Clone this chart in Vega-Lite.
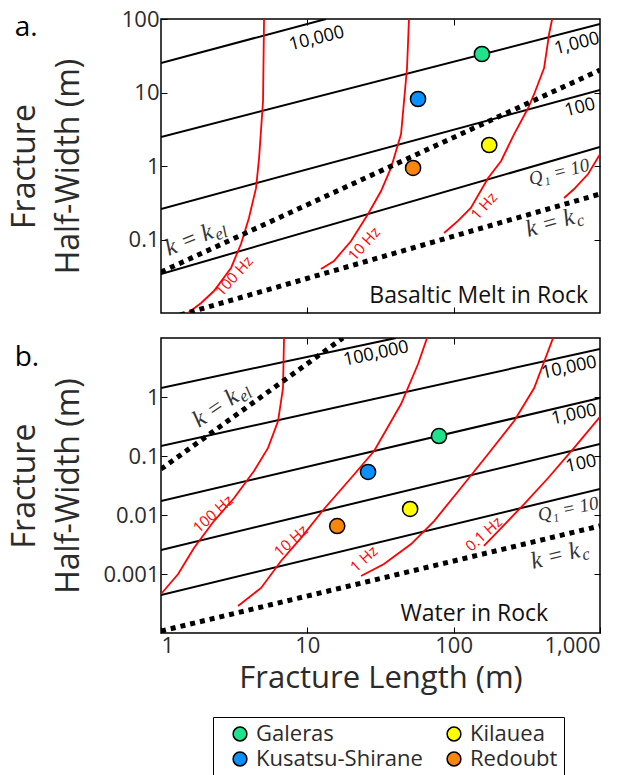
{
  "$schema": "https://vega.github.io/schema/vega-lite/v6.json",
  "background": "white",
  "padding": {"left": 7, "top": 7, "right": 5, "bottom": 0},
  "config": {
    "font": "Open Sans",
    "view": {"stroke": "black", "strokeWidth": 1.5},
    "axis": {
      "domain": false, "grid": false, "tickColor": "black", "tickSize": -6, "tickWidth": 1,
      "labelFont": "Open Sans", "labelFontSize": 22, "labelColor": "#2b2b2b", "labelPadding": 8,
      "titleFont": "Open Sans", "titleFontSize": 32, "titleFontWeight": "normal", "titleColor": "#2b2b2b"
    },
    "text": {"font": "Open Sans"}
  },
  "datasets": {
    "aTag": [{"t": "a.", "x": 0.1, "y": 58.8}],
    "bTag": [{"t": "b.", "x": 0.1, "y": 3.35}],
    "aQ": [
      {"id": "q4", "x": 1, "y": 25.2}, {"id": "q4", "x": 13.4, "y": 100},
      {"id": "q3", "x": 1, "y": 2.48}, {"id": "q3", "x": 1000, "y": 85.5},
      {"id": "q2", "x": 1, "y": 0.26}, {"id": "q2", "x": 1000, "y": 10.8},
      {"id": "q1", "x": 1, "y": 0.034}, {"id": "q1", "x": 1000, "y": 1.81}
    ],
    "aDot": [
      {"id": "kel", "x": 1, "y": 0.0361}, {"id": "kel", "x": 1000, "y": 20.2},
      {"id": "kc", "x": 1, "y": 0.0079}, {"id": "kc", "x": 1000, "y": 0.416}
    ],
    "aRed": [
      {"id": "f100", "x": 1.53, "y": 0.01}, {"id": "f100", "x": 1.88, "y": 0.0137}, {"id": "f100", "x": 2.3, "y": 0.0199},
      {"id": "f100", "x": 3.01, "y": 0.041}, {"id": "f100", "x": 3.52, "y": 0.0869}, {"id": "f100", "x": 3.99, "y": 0.196},
      {"id": "f100", "x": 4.46, "y": 0.5}, {"id": "f100", "x": 4.68, "y": 1.28}, {"id": "f100", "x": 4.98, "y": 7.66},
      {"id": "f100", "x": 5.06, "y": 100},
      {"id": "f10", "x": 12.4, "y": 0.0397}, {"id": "f10", "x": 15.2, "y": 0.051}, {"id": "f10", "x": 19.9, "y": 0.0955},
      {"id": "f10", "x": 26.0, "y": 0.222}, {"id": "f10", "x": 31.9, "y": 0.457}, {"id": "f10", "x": 37.3, "y": 0.94},
      {"id": "f10", "x": 43.7, "y": 2.72}, {"id": "f10", "x": 48.0, "y": 21.5}, {"id": "f10", "x": 49.5, "y": 100},
      {"id": "f1", "x": 86, "y": 0.1225}, {"id": "f1", "x": 107, "y": 0.179}, {"id": "f1", "x": 131, "y": 0.269},
      {"id": "f1", "x": 172, "y": 0.687}, {"id": "f1", "x": 211, "y": 1.17}, {"id": "f1", "x": 259, "y": 2.72},
      {"id": "f1", "x": 323, "y": 6.15}, {"id": "f1", "x": 355, "y": 9.55}, {"id": "f1", "x": 415, "y": 21.5},
      {"id": "f1", "x": 449, "y": 62.5}, {"id": "f1", "x": 471, "y": 100},
      {"id": "f01", "x": 568, "y": 0.367}, {"id": "f01", "x": 665, "y": 0.486}, {"id": "f01", "x": 829, "y": 0.778},
      {"id": "f01", "x": 1000, "y": 1.45}
    ],
    "aPts": [
      {"name": "Galeras", "x": 156, "y": 33.4},
      {"name": "Kusatsu-Shirane", "x": 57.1, "y": 8.16},
      {"name": "Kilauea", "x": 175, "y": 1.93},
      {"name": "Redoubt", "x": 52.8, "y": 0.94}
    ],
    "aQLab": [
      {"t": "10,000", "x": 11.6, "y": 53.5},
      {"t": "1,000", "x": 697, "y": 45.7},
      {"t": "100", "x": 731, "y": 6.15}
    ],
    "aQ1": [{"t": "Q₁ = 10", "x": 525, "y": 0.83}],
    "aRedLab": [
      {"t": "100 Hz", "x": 3.16, "y": 0.0318},
      {"t": "10 Hz", "x": 24.4, "y": 0.0869},
      {"t": "1 Hz", "x": 161, "y": 0.286}
    ],
    "aKel": [{"t": "k = k", "s": "el", "x": 1.13, "y": 0.0597}],
    "aKc": [{"t": "k = k", "s": "c", "x": 323, "y": 0.108}],
    "aName": [{"t": "Basaltic Melt in Rock", "x": 829, "y": 0.0137}],
    "bQ": [
      {"id": "q5", "x": 1, "y": 1.42}, {"id": "q5", "x": 40.4, "y": 10},
      {"id": "q4", "x": 1, "y": 0.148}, {"id": "q4", "x": 1000, "y": 6.5},
      {"id": "q3", "x": 1, "y": 0.0173}, {"id": "q3", "x": 1000, "y": 0.96},
      {"id": "q2", "x": 1, "y": 0.00255}, {"id": "q2", "x": 1000, "y": 0.16},
      {"id": "q1", "x": 1, "y": 0.00044}, {"id": "q1", "x": 1000, "y": 0.0276}
    ],
    "bDot": [
      {"id": "kel", "x": 1, "y": 0.06}, {"id": "kel", "x": 17.5, "y": 10},
      {"id": "kc", "x": 1, "y": 0.000108}, {"id": "kc", "x": 1000, "y": 0.00652}
    ],
    "bRed": [
      {"id": "f100", "x": 1, "y": 0.000458}, {"id": "f100", "x": 1.31, "y": 0.001}, {"id": "f100", "x": 1.68, "y": 0.00276},
      {"id": "f100", "x": 2.3, "y": 0.0079}, {"id": "f100", "x": 3.16, "y": 0.0194}, {"id": "f100", "x": 4.32, "y": 0.0557},
      {"id": "f100", "x": 5.39, "y": 0.137}, {"id": "f100", "x": 6.31, "y": 0.392}, {"id": "f100", "x": 6.82, "y": 1.42},
      {"id": "f100", "x": 6.93, "y": 10},
      {"id": "f10", "x": 3.36, "y": 0.000287}, {"id": "f10", "x": 4.83, "y": 0.00058}, {"id": "f10", "x": 6.61, "y": 0.00166},
      {"id": "f10", "x": 9.06, "y": 0.0041}, {"id": "f10", "x": 13.0, "y": 0.01265}, {"id": "f10", "x": 19.9, "y": 0.0424},
      {"id": "f10", "x": 28.6, "y": 0.1216}, {"id": "f10", "x": 43.7, "y": 0.76}, {"id": "f10", "x": 57.1, "y": 3.62},
      {"id": "f10", "x": 65.8, "y": 10},
      {"id": "f1", "x": 23.3, "y": 0.000924}, {"id": "f1", "x": 33.4, "y": 0.00148}, {"id": "f1", "x": 51.2, "y": 0.00322},
      {"id": "f1", "x": 73.5, "y": 0.0079}, {"id": "f1", "x": 112, "y": 0.0287}, {"id": "f1", "x": 172, "y": 0.108},
      {"id": "f1", "x": 259, "y": 0.392}, {"id": "f1", "x": 355, "y": 1.42}, {"id": "f1", "x": 478, "y": 10},
      {"id": "f01", "x": 161, "y": 0.003}, {"id": "f01", "x": 211, "y": 0.006}, {"id": "f01", "x": 303, "y": 0.0153},
      {"id": "f01", "x": 442, "y": 0.0424}, {"id": "f01", "x": 665, "y": 0.137}, {"id": "f01", "x": 1000, "y": 0.46}
    ],
    "bPts": [
      {"name": "Galeras", "x": 79.4, "y": 0.218},
      {"name": "Kusatsu-Shirane", "x": 26.0, "y": 0.0536},
      {"name": "Kilauea", "x": 50.4, "y": 0.01265},
      {"name": "Redoubt", "x": 16.0, "y": 0.0065}
    ],
    "bQLab": [
      {"t": "100,000", "x": 29.5, "y": 5.36},
      {"t": "10,000", "x": 615, "y": 3.1},
      {"t": "1,000", "x": 665, "y": 0.496},
      {"t": "100", "x": 743, "y": 0.073}
    ],
    "bQ1": [{"t": "Q₁ = 10", "x": 605, "y": 0.01265}],
    "bRedLab": [
      {"t": "100 Hz", "x": 2.27, "y": 0.0104},
      {"t": "10 Hz", "x": 7.74, "y": 0.00362},
      {"t": "1 Hz", "x": 24.4, "y": 0.0018},
      {"t": "0.1 Hz", "x": 161, "y": 0.00476}
    ],
    "bKel": [{"t": "k = k", "s": "el", "x": 1.82, "y": 0.298}],
    "bKc": [{"t": "k = k", "s": "c", "x": 349, "y": 0.00122}],
    "bName": [{"t": "Water in Rock", "x": 442, "y": 0.00016}]
  },
  "spacing": 21,
  "vconcat": [
    {
      "width": 439, "height": 294,
      "resolve": {"axis": {"x": "independent", "y": "independent"}},
      "layer": [
        {
          "data": {"name": "aQ"},
          "mark": {"type": "line", "color": "black", "strokeWidth": 2, "clip": true},
          "encoding": {
            "x": {"field": "x", "type": "quantitative", "scale": {"type": "log", "domain": [1, 1000], "nice": false},
                  "axis": {"values": [10, 100], "labels": false, "title": null}},
            "y": {"field": "y", "type": "quantitative", "scale": {"type": "log", "domain": [0.01, 100], "nice": false},
                  "axis": {"values": [0.1, 1, 10, 100], "format": ",~g", "title": ["Fracture", "Half-Width  (m)"], "titleLineHeight": 44, "titleX": -120, "titleBaseline": "bottom"}},
            "detail": {"field": "id"}
          }
        },
        {
          "data": {"name": "aRed"},
          "mark": {"type": "line", "color": "#ff0000", "strokeWidth": 1.8, "clip": true},
          "encoding": {
            "x": {"field": "x", "type": "quantitative", "scale": {"type": "log", "domain": [1, 1000], "nice": false},
                  "axis": {"orient": "top", "values": [10, 100], "labels": false, "title": null}},
            "y": {"field": "y", "type": "quantitative", "scale": {"type": "log", "domain": [0.01, 100], "nice": false},
                  "axis": {"orient": "right", "values": [0.1, 1, 10], "labels": false, "title": null}},
            "detail": {"field": "id"}
          }
        },
        {
          "data": {"name": "aDot"},
          "mark": {"type": "line", "color": "black", "strokeWidth": 5, "strokeDash": [5, 5], "strokeCap": "butt", "clip": true},
          "encoding": {
            "x": {"field": "x", "type": "quantitative", "axis": null},
            "y": {"field": "y", "type": "quantitative", "axis": null},
            "detail": {"field": "id"}
          }
        },
        {
          "data": {"name": "aPts"},
          "mark": {"type": "point", "filled": true, "size": 230, "stroke": "black", "strokeWidth": 1.5, "opacity": 1},
          "encoding": {
            "x": {"field": "x", "type": "quantitative", "axis": null},
            "y": {"field": "y", "type": "quantitative", "axis": null},
            "color": {"field": "name", "type": "nominal",
              "scale": {"domain": ["Galeras", "Kilauea", "Kusatsu-Shirane", "Redoubt"], "range": ["#1ee38c", "#ffff00", "#0a90ff", "#f7860c"]},
              "legend": {"orient": "none", "legendX": 52, "legendY": 698, "columns": 2, "direction": "horizontal", "title": null,
                "strokeColor": "black", "fillColor": "white", "padding": 6, "labelFontSize": 22, "labelFont": "Open Sans", "labelColor": "#2b2b2b", "labelLimit": 300,
                "symbolType": "circle", "symbolSize": 190, "symbolStrokeColor": "black", "symbolStrokeWidth": 1.5, "symbolOpacity": 1,
                "symbolOffset": 10, "rowPadding": 3, "columnPadding": 10, "labelOffset": 5}}
          }
        },
        {
          "data": {"name": "aTag"},
          "mark": {"type": "text", "fontSize": 28, "color": "black", "align": "left", "baseline": "alphabetic"},
          "encoding": {"x": {"field": "x", "type": "quantitative", "axis": null}, "y": {"field": "y", "type": "quantitative", "axis": null}, "text": {"field": "t"}}
        },
        {
          "data": {"name": "aQLab"},
          "mark": {"type": "text", "fontSize": 18, "angle": -14, "color": "black", "align": "center", "baseline": "middle"},
          "encoding": {"x": {"field": "x", "type": "quantitative", "axis": null}, "y": {"field": "y", "type": "quantitative", "axis": null}, "text": {"field": "t"}}
        },
        {
          "data": {"name": "aQ1"},
          "mark": {"type": "text", "fontSize": 19, "font": "Liberation Serif", "fontStyle": "italic", "angle": -14, "color": "#333", "align": "center", "baseline": "middle"},
          "encoding": {"x": {"field": "x", "type": "quantitative", "axis": null}, "y": {"field": "y", "type": "quantitative", "axis": null}, "text": {"field": "t"}}
        },
        {
          "data": {"name": "aRedLab"},
          "mark": {"type": "text", "fontSize": 15, "angle": -48, "color": "#ff0000", "align": "center", "baseline": "middle"},
          "encoding": {"x": {"field": "x", "type": "quantitative", "axis": null}, "y": {"field": "y", "type": "quantitative", "axis": null}, "text": {"field": "t"}}
        },
        {
          "data": {"name": "aKel"},
          "mark": {"type": "text", "fontSize": 24, "font": "Liberation Serif", "fontStyle": "italic", "angle": -22, "color": "#333", "align": "left", "baseline": "alphabetic"},
          "encoding": {"x": {"field": "x", "type": "quantitative", "axis": null}, "y": {"field": "y", "type": "quantitative", "axis": null}, "text": {"field": "t"}}
        },
        {
          "data": {"name": "aKel"},
          "mark": {"type": "text", "fontSize": 17, "font": "Liberation Serif", "fontStyle": "italic", "angle": -22, "color": "#333", "align": "left", "baseline": "alphabetic", "dx": 51, "dy": 4},
          "encoding": {"x": {"field": "x", "type": "quantitative", "axis": null}, "y": {"field": "y", "type": "quantitative", "axis": null}, "text": {"field": "s"}}
        },
        {
          "data": {"name": "aKc"},
          "mark": {"type": "text", "fontSize": 24, "font": "Liberation Serif", "fontStyle": "italic", "angle": -16, "color": "#333", "align": "left", "baseline": "alphabetic"},
          "encoding": {"x": {"field": "x", "type": "quantitative", "axis": null}, "y": {"field": "y", "type": "quantitative", "axis": null}, "text": {"field": "t"}}
        },
        {
          "data": {"name": "aKc"},
          "mark": {"type": "text", "fontSize": 17, "font": "Liberation Serif", "fontStyle": "italic", "angle": -16, "color": "#333", "align": "left", "baseline": "alphabetic", "dx": 51, "dy": 4},
          "encoding": {"x": {"field": "x", "type": "quantitative", "axis": null}, "y": {"field": "y", "type": "quantitative", "axis": null}, "text": {"field": "s"}}
        },
        {
          "data": {"name": "aName"},
          "mark": {"type": "text", "fontSize": 23, "color": "#111", "align": "right", "baseline": "alphabetic"},
          "encoding": {"x": {"field": "x", "type": "quantitative", "axis": null}, "y": {"field": "y", "type": "quantitative", "axis": null}, "text": {"field": "t"}}
        }
      ]
    },
    {
      "width": 439, "height": 295,
      "resolve": {"axis": {"x": "independent", "y": "independent"}},
      "layer": [
        {
          "data": {"name": "bQ"},
          "mark": {"type": "line", "color": "black", "strokeWidth": 2, "clip": true},
          "encoding": {
            "x": {"field": "x", "type": "quantitative", "scale": {"type": "log", "domain": [1, 1000], "nice": false},
                  "axis": {"values": [1, 10, 100, 1000], "format": ",", "title": "Fracture Length (m)", "titlePadding": 7, "titleFontSize": 31}},
            "y": {"field": "y", "type": "quantitative", "scale": {"type": "log", "domain": [0.0001, 10], "nice": false},
                  "axis": {"values": [0.001, 0.01, 0.1, 1], "format": ",~g", "title": ["Fracture", "Half-Width  (m)"], "titleLineHeight": 44, "titleX": -120, "titleBaseline": "bottom"}},
            "detail": {"field": "id"}
          }
        },
        {
          "data": {"name": "bRed"},
          "mark": {"type": "line", "color": "#ff0000", "strokeWidth": 1.8, "clip": true},
          "encoding": {
            "x": {"field": "x", "type": "quantitative", "scale": {"type": "log", "domain": [1, 1000], "nice": false},
                  "axis": {"orient": "top", "values": [10, 100], "labels": false, "title": null}},
            "y": {"field": "y", "type": "quantitative", "scale": {"type": "log", "domain": [0.0001, 10], "nice": false},
                  "axis": {"orient": "right", "values": [0.001, 0.01, 0.1, 1], "labels": false, "title": null}},
            "detail": {"field": "id"}
          }
        },
        {
          "data": {"name": "bDot"},
          "mark": {"type": "line", "color": "black", "strokeWidth": 5, "strokeDash": [5, 5], "strokeCap": "butt", "clip": true},
          "encoding": {
            "x": {"field": "x", "type": "quantitative", "axis": null},
            "y": {"field": "y", "type": "quantitative", "axis": null},
            "detail": {"field": "id"}
          }
        },
        {
          "data": {"name": "bPts"},
          "mark": {"type": "point", "filled": true, "size": 230, "stroke": "black", "strokeWidth": 1.5, "opacity": 1},
          "encoding": {
            "x": {"field": "x", "type": "quantitative", "axis": null},
            "y": {"field": "y", "type": "quantitative", "axis": null},
            "color": {"field": "name", "type": "nominal",
              "scale": {"domain": ["Galeras", "Kilauea", "Kusatsu-Shirane", "Redoubt"], "range": ["#1ee38c", "#ffff00", "#0a90ff", "#f7860c"]},
              "legend": {"orient": "none", "legendX": 52, "legendY": 698, "columns": 2, "direction": "horizontal", "title": null,
                "strokeColor": "black", "fillColor": "white", "padding": 6, "labelFontSize": 22, "labelFont": "Open Sans", "labelColor": "#2b2b2b", "labelLimit": 300,
                "symbolType": "circle", "symbolSize": 190, "symbolStrokeColor": "black", "symbolStrokeWidth": 1.5, "symbolOpacity": 1,
                "symbolOffset": 10, "rowPadding": 3, "columnPadding": 10, "labelOffset": 5}}
          }
        },
        {
          "data": {"name": "bTag"},
          "mark": {"type": "text", "fontSize": 28, "color": "black", "align": "left", "baseline": "alphabetic"},
          "encoding": {"x": {"field": "x", "type": "quantitative", "axis": null}, "y": {"field": "y", "type": "quantitative", "axis": null}, "text": {"field": "t"}}
        },
        {
          "data": {"name": "bQLab"},
          "mark": {"type": "text", "fontSize": 18, "angle": -12, "color": "black", "align": "center", "baseline": "middle"},
          "encoding": {"x": {"field": "x", "type": "quantitative", "axis": null}, "y": {"field": "y", "type": "quantitative", "axis": null}, "text": {"field": "t"}}
        },
        {
          "data": {"name": "bQ1"},
          "mark": {"type": "text", "fontSize": 19, "font": "Liberation Serif", "fontStyle": "italic", "angle": -12, "color": "#333", "align": "center", "baseline": "middle"},
          "encoding": {"x": {"field": "x", "type": "quantitative", "axis": null}, "y": {"field": "y", "type": "quantitative", "axis": null}, "text": {"field": "t"}}
        },
        {
          "data": {"name": "bRedLab"},
          "mark": {"type": "text", "fontSize": 15, "angle": -42, "color": "#ff0000", "align": "center", "baseline": "middle"},
          "encoding": {"x": {"field": "x", "type": "quantitative", "axis": null}, "y": {"field": "y", "type": "quantitative", "axis": null}, "text": {"field": "t"}}
        },
        {
          "data": {"name": "bKel"},
          "mark": {"type": "text", "fontSize": 24, "font": "Liberation Serif", "fontStyle": "italic", "angle": -34, "color": "#333", "align": "left", "baseline": "alphabetic"},
          "encoding": {"x": {"field": "x", "type": "quantitative", "axis": null}, "y": {"field": "y", "type": "quantitative", "axis": null}, "text": {"field": "t"}}
        },
        {
          "data": {"name": "bKel"},
          "mark": {"type": "text", "fontSize": 17, "font": "Liberation Serif", "fontStyle": "italic", "angle": -34, "color": "#333", "align": "left", "baseline": "alphabetic", "dx": 51, "dy": 4},
          "encoding": {"x": {"field": "x", "type": "quantitative", "axis": null}, "y": {"field": "y", "type": "quantitative", "axis": null}, "text": {"field": "s"}}
        },
        {
          "data": {"name": "bKc"},
          "mark": {"type": "text", "fontSize": 24, "font": "Liberation Serif", "fontStyle": "italic", "angle": -14, "color": "#333", "align": "left", "baseline": "alphabetic"},
          "encoding": {"x": {"field": "x", "type": "quantitative", "axis": null}, "y": {"field": "y", "type": "quantitative", "axis": null}, "text": {"field": "t"}}
        },
        {
          "data": {"name": "bKc"},
          "mark": {"type": "text", "fontSize": 17, "font": "Liberation Serif", "fontStyle": "italic", "angle": -14, "color": "#333", "align": "left", "baseline": "alphabetic", "dx": 51, "dy": 4},
          "encoding": {"x": {"field": "x", "type": "quantitative", "axis": null}, "y": {"field": "y", "type": "quantitative", "axis": null}, "text": {"field": "s"}}
        },
        {
          "data": {"name": "bName"},
          "mark": {"type": "text", "fontSize": 23, "color": "#111", "align": "right", "baseline": "alphabetic"},
          "encoding": {"x": {"field": "x", "type": "quantitative", "axis": null}, "y": {"field": "y", "type": "quantitative", "axis": null}, "text": {"field": "t"}}
        }
      ]
    }
  ]
}
